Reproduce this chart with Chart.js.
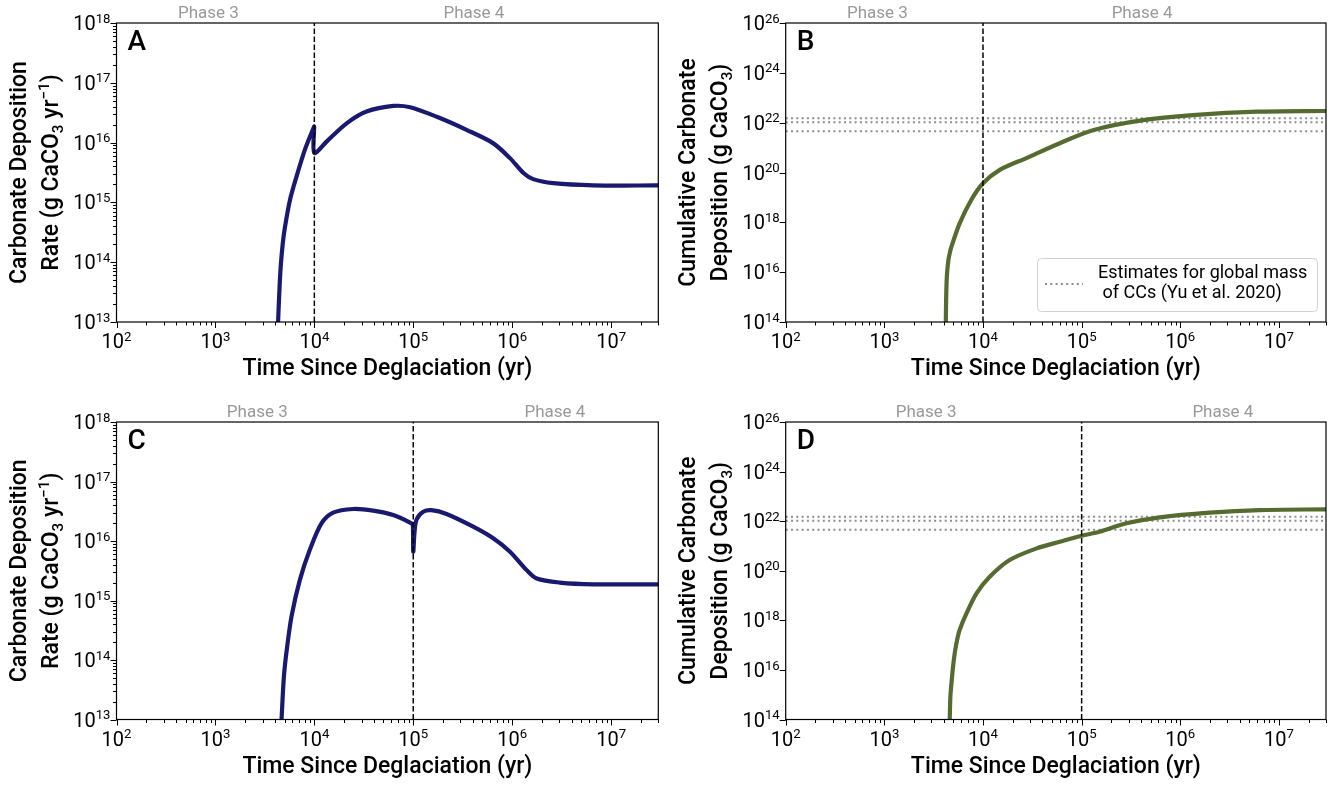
<!DOCTYPE html>
<html>
<head>
<meta charset="utf-8">
<script src="https://cdn.jsdelivr.net/npm/chart.js@4.4.1/dist/chart.umd.min.js"></script>
<style>
body{margin:0;background:#fff;}
#wrap{position:relative;width:1340px;height:787px;background:#fff;}
canvas{position:absolute;left:0;top:0;}
</style>
</head>
<body>
<div id="wrap">
<canvas id="panelA" width="1340" height="787"></canvas>
<canvas id="panelB" width="1340" height="787"></canvas>
<canvas id="panelC" width="1340" height="787"></canvas>
<canvas id="panelD" width="1340" height="787"></canvas>
</div>
<script>
// values (time in yr)
var timeA = [4300, 4420, 4570, 4800, 5050, 5670, 6600, 8000, 9800, 9950, 10000, 13300, 21200, 33700, 63000, 93000, 173000, 350000, 640000, 950000, 1300000, 1630000, 2600000, 6600000, 30000000];
var rateA = [1e13, 3e13, 8.4e13, 2.1e14, 3.9e14, 1.1e15, 2.7e15, 7.5e15, 1.75e16, 1.85e16, 6.7e15, 1.04e16, 2.1e16, 3.3e16, 4.1e16, 3.9e16, 2.7e16, 1.62e16, 9.8e15, 5.5e15, 3.1e15, 2.45e15, 2.1e15, 1.93e15, 1.92e15];

var timeB = [4200, 4230, 4300, 4420, 4520, 4790, 5800, 7600, 10000, 14800, 27500, 60000, 130000, 420000, 1340000, 6000000, 30000000];
var cumB = [1e14, 8e14, 6.6e15, 2.3e16, 4.2e16, 1.05e17, 9.1e17, 7.9e18, 3.7e19, 1.27e20, 3.8e20, 1.5e21, 5e21, 1.26e22, 2e22, 2.75e22, 2.94e22];

var timeC = [4660, 4920, 5240, 5880, 7130, 9000, 11800, 15500, 24700, 39300, 62700, 96000, 99000, 100000, 103000, 108000, 126000, 153000, 217000, 404000, 643000, 950000, 1400000, 1770000, 3030000, 6600000, 30000000];
var rateC = [1e13, 5.2e13, 1.4e14, 5.4e14, 2.2e15, 7.1e15, 1.98e16, 3.0e16, 3.45e16, 3.24e16, 2.73e16, 1.98e16, 1.85e16, 6.6e15, 1.4e16, 2.3e16, 3.1e16, 3.3e16, 2.85e16, 1.74e16, 1.11e16, 6.6e15, 3.24e15, 2.34e15, 2.0e15, 1.87e15, 1.87e15];

var timeD = [4600, 4670, 4790, 4970, 5170, 5460, 5800, 6800, 8600, 11700, 18600, 35000, 60000, 100000, 152000, 284000, 620000, 1980000, 6300000, 30000000];
var cumD = [1e14, 8.3e14, 2.9e15, 1.35e16, 4.7e16, 1.6e17, 4.1e17, 1.9e18, 1.23e19, 5.7e19, 2.7e20, 8e20, 1.47e21, 2.58e21, 3.76e21, 8.2e21, 1.43e22, 2.2e22, 2.8e22, 3.0e22];

// Yu et al. 2020 global mass of CCs
var ccEstimates = [4.5e21, 1.04e22, 1.5e22];

var xExps = [2, 3, 4, 5, 6, 7];
var rateExps = [13, 14, 15, 16, 17, 18];
var cumExps = [14, 16, 18, 20, 22, 24, 26];
var phaseLabels = ['Phase 3', 'Phase 4'];
var phaseAtTop = [850, 410000];
var phaseAtBottom = [2650, 2700000];

var FONT = "Roboto, 'DejaVu Sans', sans-serif";
var NAVY = '#191970';
var OLIVE = '#556b2f';

function rich(ctx, parts, x, y, size, weight, align) {
  var w = 0;
  parts.forEach(function(p) {
    ctx.font = weight + ' ' + (p[1] ? size * 0.66 : size) + 'px ' + FONT;
    w += ctx.measureText(p[0]).width;
  });
  var cx = align == 'center' ? x - w / 2 : (align == 'right' ? x - w : x);
  ctx.textAlign = 'left';
  ctx.textBaseline = 'alphabetic';
  parts.forEach(function(p) {
    ctx.font = weight + ' ' + (p[1] ? size * 0.66 : size) + 'px ' + FONT;
    var dy = p[1] == 1 ? -size * 0.37 : (p[1] == -1 ? size * 0.22 : 0);
    ctx.fillText(p[0], cx, y + dy);
    cx += ctx.measureText(p[0]).width;
  });
}

var decor = {
  id: 'decor',
  afterDraw: function(chart) {
    var o = chart.options.plugins.decor;
    var ctx = chart.ctx, a = chart.chartArea;
    var xs = chart.scales.x, ys = chart.scales.y;
    ctx.save();
    ctx.strokeStyle = '#000';
    ctx.fillStyle = '#000';
    ctx.lineWidth = 1.2;
    ctx.strokeRect(a.left, a.top, a.right - a.left, a.bottom - a.top);

    // x ticks
    ctx.lineWidth = 1;
    ctx.beginPath();
    xExps.forEach(function(e) {
      for (var k = 1; k < 10; k++) {
        var v = k * Math.pow(10, e);
        if (v > xs.max) break;
        var px = Math.round(xs.getPixelForValue(v)) + 0.5;
        ctx.moveTo(px, a.bottom);
        ctx.lineTo(px, a.bottom + (k == 1 ? 6 : 3.5));
      }
    });
    ctx.stroke();
    xExps.forEach(function(e) {
      rich(ctx, [['10', 0], [String(e), 1]], xs.getPixelForValue(Math.pow(10, e)), a.bottom + 26, 20, 400, 'center');
    });

    // y ticks
    ctx.beginPath();
    o.yExps.forEach(function(e) {
      var kmax = o.yMinor ? 9 : 1;
      for (var k = 1; k <= kmax; k++) {
        var v = k * Math.pow(10, e);
        if (v > ys.max) break;
        var py = Math.round(ys.getPixelForValue(v)) + 0.5;
        ctx.moveTo(a.left, py);
        ctx.lineTo(a.left - (k == 1 ? 6 : 3.5), py);
      }
    });
    ctx.stroke();
    o.yExps.forEach(function(e) {
      rich(ctx, [['10', 0], [String(e), 1]], a.left - 6, ys.getPixelForValue(Math.pow(10, e)) + 7, 20, 400, 'right');
    });

    // axis titles
    rich(ctx, [['Time Since Deglaciation (yr)', 0]], (a.left + a.right) / 2, a.bottom + 53, 23, 500, 'center');
    var cy = (a.top + a.bottom) / 2;
    o.yTitle.forEach(function(line, i) {
      ctx.save();
      ctx.translate(a.left - 91 + i * 32, cy);
      ctx.rotate(-Math.PI / 2);
      rich(ctx, line, 0, 0, 23, 500, 'center');
      ctx.restore();
    });

    // panel letter
    rich(ctx, [[o.letter, 0]], a.left + 11, a.top + 27, 28, 500, 'left');

    // phase labels
    ctx.fillStyle = '#999';
    o.phaseAt.forEach(function(v, i) {
      rich(ctx, [[phaseLabels[i], 0]], xs.getPixelForValue(v), a.top - 5, 17, 400, 'center');
    });

    // legend
    if (o.legend) {
      var lx = a.right - 289, ly = a.bottom - 64, lw = 280, lh = 53;
      ctx.fillStyle = 'rgba(255,255,255,0.85)';
      ctx.strokeStyle = '#d0d0d0';
      ctx.lineWidth = 1;
      ctx.beginPath();
      ctx.roundRect(lx + 0.5, ly + 0.5, lw, lh, 4);
      ctx.fill();
      ctx.stroke();
      ctx.strokeStyle = '#8c8c8c';
      ctx.lineWidth = 2;
      ctx.setLineDash([2, 3.3]);
      ctx.beginPath();
      ctx.moveTo(lx + 8, ly + 26);
      ctx.lineTo(lx + 46, ly + 26);
      ctx.stroke();
      ctx.setLineDash([]);
      ctx.fillStyle = '#000';
      rich(ctx, [['Estimates for global mass', 0]], lx + 61, ly + 20, 18, 400, 'left');
      rich(ctx, [[' of CCs (Yu et al. 2020)', 0]], lx + 61, ly + 40, 18, 400, 'left');
    }
    ctx.restore();
  }
};

function pts(t, v) {
  return t.map(function(x, i) { return {x: x, y: v[i]}; });
}

function makePanel(p) {
  var a = p.area;
  var ymin = Math.pow(10, p.yExps[0]), ymax = Math.pow(10, p.yExps[p.yExps.length - 1]);
  var datasets = [
    {data: [{x: p.boundary, y: ymin}, {x: p.boundary, y: ymax}], borderColor: '#000', borderWidth: 1.5, borderDash: [5.5, 2.5], pointRadius: 0, order: 0},
    {data: pts(p.t, p.v), borderColor: p.color, borderWidth: 4.2, pointRadius: 0, tension: 0.3, borderCapStyle: 'round', borderJoinStyle: 'round', order: 1}
  ];
  if (p.estimates) {
    ccEstimates.forEach(function(e) {
      datasets.push({data: [{x: 100, y: e}, {x: 3e7, y: e}], borderColor: '#8c8c8c', borderWidth: 2, borderDash: [2, 3.3], pointRadius: 0, order: 2});
    });
  }
  new Chart(document.getElementById(p.id), {
    type: 'line',
    data: {datasets: datasets},
    options: {
      responsive: false,
      animation: false,
      devicePixelRatio: 1,
      layout: {padding: {left: a.left - 80, top: a.top, right: 1340 - a.right, bottom: 787 - a.bottom - 60}},
      scales: {
        x: {type: 'logarithmic', min: 100, max: 3e7, ticks: {display: false}, grid: {display: false}, border: {display: false},
            afterFit: function(s) { s.height = 60; }},
        y: {type: 'logarithmic', min: ymin, max: ymax, ticks: {display: false}, grid: {display: false}, border: {display: false},
            afterFit: function(s) { s.width = 80; }}
      },
      plugins: {
        legend: {display: false},
        tooltip: {enabled: false},
        decor: {yExps: p.yExps, yMinor: p.yMinor, yTitle: p.yTitle, letter: p.letter, phaseAt: p.phaseAt, legend: p.legend}
      }
    },
    plugins: [decor]
  });
}

var rateTitle = [[['Carbonate Deposition', 0]], [['Rate (g CaCO', 0], ['3', -1], [' yr', 0], ['\u22121', 1], [')', 0]]];
var cumTitle = [[['Cumulative Carbonate', 0]], [['Deposition (g CaCO', 0], ['3', -1], [')', 0]]];

makePanel({id: 'panelA', area: {left: 116.5, top: 23, right: 658.3, bottom: 322}, t: timeA, v: rateA, color: NAVY,
  yExps: rateExps, yMinor: true, boundary: 1e4, letter: 'A', yTitle: rateTitle, phaseAt: phaseAtTop});
makePanel({id: 'panelB', area: {left: 785.7, top: 23, right: 1326, bottom: 322}, t: timeB, v: cumB, color: OLIVE,
  yExps: cumExps, yMinor: false, boundary: 1e4, letter: 'B', yTitle: cumTitle, phaseAt: phaseAtTop, estimates: true, legend: true});
makePanel({id: 'panelC', area: {left: 116.5, top: 422, right: 658.3, bottom: 719.5}, t: timeC, v: rateC, color: NAVY,
  yExps: rateExps, yMinor: true, boundary: 1e5, letter: 'C', yTitle: rateTitle, phaseAt: phaseAtBottom});
makePanel({id: 'panelD', area: {left: 785.7, top: 422, right: 1326, bottom: 719.5}, t: timeD, v: cumD, color: OLIVE,
  yExps: cumExps, yMinor: false, boundary: 1e5, letter: 'D', yTitle: cumTitle, phaseAt: phaseAtBottom, estimates: true});
</script>
</body>
</html>
